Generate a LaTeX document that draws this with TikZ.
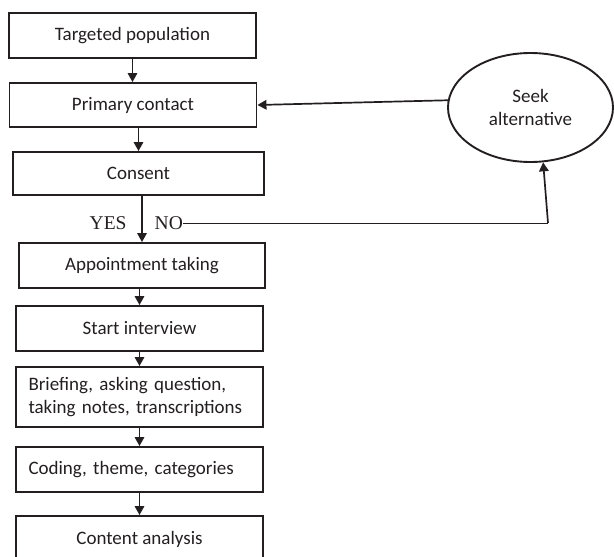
\documentclass[tikz,border=0pt]{standalone}
\usepackage{fontspec}
\setmainfont{Carlito}
\newfontfamily\timesfont{Liberation Serif}
\usetikzlibrary{arrows.meta,shapes.geometric}
\definecolor{ink}{RGB}{35,31,32}
\tikzset{
  boxnode/.style={draw=ink, line width=1.9pt, rectangle, minimum width=247pt, minimum height=45pt,
    inner sep=0pt, font=\fontsize{19}{23}\selectfont, text=ink},
  leftbox/.style={boxnode, text width=222pt, inner xsep=12.5pt, align=left},
  ovalnode/.style={draw=ink, line width=1.9pt, ellipse, minimum width=165pt, minimum height=109pt,
    inner sep=0pt, align=center, font=\fontsize{19}{23}\selectfont, text=ink},
  conn/.style={draw=ink, line width=1.7pt, -{Triangle[length=9pt,width=9.5pt]}},
  thinline/.style={draw=ink, line width=1pt},
  lbl/.style={font=\timesfont\fontsize{19.5}{22}\selectfont, text=ink, inner sep=0pt}
}
\begin{document}
\begin{tikzpicture}[x=1pt,y=-1pt]
\useasboundingbox (0,0) rectangle (614,557);
\node[boxnode] (T) at (132.5,35.5) {Targeted population};
\node[boxnode, minimum height=44pt] (P) at (133,105) {Primary contact};
\node[boxnode, minimum width=251pt, minimum height=43pt] (C) at (138.5,173.5) {Consent};
\node[boxnode, minimum width=246pt] (A) at (142,265.5) {Appointment taking};
\node[boxnode] (S) at (139.5,328.5) {Start interview};
\node[leftbox, minimum height=60pt] (B) at (139.5,397) {Briefing, asking question,\\taking notes, transcriptions};
\node[leftbox] (Co) at (139.5,469.5) {Coding, theme, categories};
\node[boxnode, minimum height=46pt] (Ct) at (139.5,539) {Content analysis};
\node[ovalnode] (E) at (530.5,107.5) {Seek\\alternative};
\node[lbl, anchor=base west] (Y) at (89.5,229) {YES};
\node[lbl, anchor=base west] (N) at (154.5,229) {NO};
\coordinate (corner) at (548,223);

\draw[conn] (T.south) -- (T.south |- P.north);
\draw[conn] (C.north |- P.south) -- (C.north);
\draw[conn] (A.north |- C.south) -- (A.north);
\draw[conn] (S.north |- A.south) -- (S.north);
\draw[conn] (S.south) -- (B.north);
\draw[conn] (B.south) -- (Co.north);
\draw[conn] (Co.south) -- (Ct.north);
\draw[conn] (E.175) -- (P.east);
\draw[thinline] (N.east |- corner) -- (corner);
\draw[conn] (corner) -- (E.283);
\end{tikzpicture}
\end{document}
